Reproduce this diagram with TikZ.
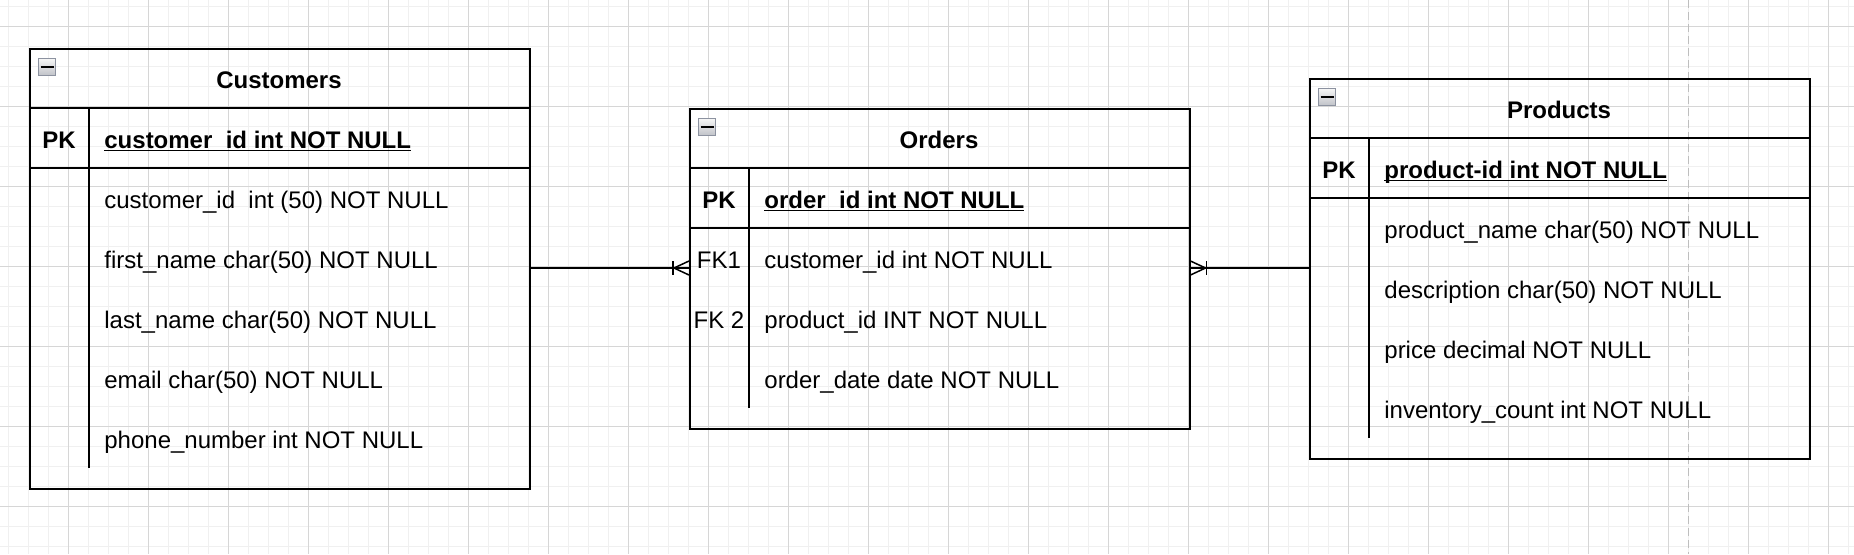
\documentclass[tikz,border=0pt]{standalone}
\usepackage{fontspec}
\setmainfont{Liberation Sans}
\usepackage{xcolor}
\usetikzlibrary{positioning}

\definecolor{minorgrid}{RGB}{240,240,240}
\definecolor{majorgrid}{RGB}{214,214,214}
\definecolor{pagebreak}{RGB}{190,190,190}
\definecolor{iconedge}{RGB}{140,146,160}
\definecolor{icontop}{RGB}{246,246,246}
\definecolor{iconbottom}{RGB}{192,194,200}

\newcommand{\keyfield}[1]{\sbox0{#1}\rlap{\rule[-1.7pt]{\wd0}{0.9pt}}\usebox0}

\begin{document}
\begin{tikzpicture}[x=0.5pt,y=-0.5pt,
		grid minor/.style={draw=minorgrid,line width=0.5pt},
		grid major/.style={draw=majorgrid,line width=0.5pt},
		page break/.style={draw=pagebreak,line width=0.6pt,dash pattern=on 4pt off 2pt},
		table box/.style={draw=black,line width=0.75pt,anchor=north west,minimum width=250pt,inner sep=0pt},
		table line/.style={draw=black,line width=0.75pt},
		icon box/.style={draw=iconedge,line width=0.6pt,top color=icontop,bottom color=iconbottom,anchor=north west,minimum size=8.5pt,inner sep=0pt},
		icon minus/.style={draw=black,line width=1pt},
		title text/.style={font=\fontsize{12}{14}\selectfont\bfseries,anchor=base,inner sep=0pt},
		key text/.style={font=\fontsize{12}{14}\selectfont,anchor=base,inner sep=0pt},
		pk text/.style={font=\fontsize{12}{14}\selectfont\bfseries,anchor=base,inner sep=0pt},
		field text/.style={font=\fontsize{12}{14}\selectfont,anchor=base west,inner sep=0pt},
		relation/.style={draw=black,line width=0.75pt}]
		\useasboundingbox (0,0) rectangle (1854,554);
		\fill[white] (0,0) rectangle (1854,554);
		% background grid
		\foreach \gx in {8.3,28.3,...,1854} \draw[grid minor] (\gx,0) -- (\gx,554);
		\foreach \gy in {6.7,26.7,...,554} \draw[grid minor] (0,\gy) -- (1854,\gy);
		\foreach \gx in {68.3,148.3,...,1854} \draw[grid major] (\gx,0) -- (\gx,554);
		\foreach \gy in {26.7,106.7,...,554} \draw[grid major] (0,\gy) -- (1854,\gy);
		\draw[page break] (1688.3,0) -- (1688.3,554);
		% Customers
		\node[table box,minimum height=220pt] (customers) at (29,48) {};
		\node[icon box] (customers-icon) at (38,58) {};
		\draw[icon minus] ([xshift=1.3pt]customers-icon.west) -- ([xshift=-1.3pt]customers-icon.east);
		\node[title text] (customers-title) at (279,88) {Customers};
		\draw[table line] (29,108) -- (529,108);
		\draw[table line] (29,168) -- (529,168);
		\draw[table line] (89,108) -- (89,468);
		\node[pk text] (customers-pk) at (59,148) {PK};
		\node[field text,font=\fontsize{12}{14}\selectfont\bfseries] (customers-key) at (104,148) {\keyfield{customer\_id int NOT NULL}};
		\node[field text] (customers-row1) at (104,208) {customer\_id\ \ int (50) NOT NULL};
		\node[field text] (customers-row2) at (104,268) {first\_name char(50) NOT NULL};
		\node[field text] (customers-row3) at (104,328) {last\_name char(50) NOT NULL};
		\node[field text] (customers-row4) at (104,388) {email char(50) NOT NULL};
		\node[field text] (customers-row5) at (104,448) {phone\_number int NOT NULL};
		% Orders
		\node[table box,minimum height=160pt] (orders) at (689,108) {};
		\node[icon box] (orders-icon) at (698,118) {};
		\draw[icon minus] ([xshift=1.3pt]orders-icon.west) -- ([xshift=-1.3pt]orders-icon.east);
		\node[title text] (orders-title) at (939,148) {Orders};
		\draw[table line] (689,168) -- (1189,168);
		\draw[table line] (689,228) -- (1189,228);
		\draw[table line] (749,168) -- (749,408);
		\node[pk text] (orders-pk) at (719,208) {PK};
		\node[field text,font=\fontsize{12}{14}\selectfont\bfseries] (orders-key) at (764,208) {\keyfield{order\_id int NOT NULL}};
		\node[key text] (orders-fk1) at (719,268) {FK1};
		\node[key text] (orders-fk2) at (719,328) {FK 2};
		\node[field text] (orders-row1) at (764,268) {customer\_id int NOT NULL};
		\node[field text] (orders-row2) at (764,328) {product\_id INT NOT NULL};
		\node[field text] (orders-row3) at (764,388) {order\_date date NOT NULL};
		% Products
		\node[table box,minimum height=190pt] (products) at (1309,78) {};
		\node[icon box] (products-icon) at (1318,88) {};
		\draw[icon minus] ([xshift=1.3pt]products-icon.west) -- ([xshift=-1.3pt]products-icon.east);
		\node[title text] (products-title) at (1559,118) {Products};
		\draw[table line] (1309,138) -- (1809,138);
		\draw[table line] (1309,198) -- (1809,198);
		\draw[table line] (1369,138) -- (1369,438);
		\node[pk text] (products-pk) at (1339,178) {PK};
		\node[field text,font=\fontsize{12}{14}\selectfont\bfseries] (products-key) at (1384,178) {\keyfield{product-id int NOT NULL}};
		\node[field text] (products-row1) at (1384,238) {product\_name char(50) NOT NULL};
		\node[field text] (products-row2) at (1384,298) {description char(50) NOT NULL};
		\node[field text] (products-row3) at (1384,358) {price decimal NOT NULL};
		\node[field text] (products-row4) at (1384,418) {inventory\_count int NOT NULL};
		% relations
		\coordinate (link) at (0,268);
		\draw[relation] (customers.east |- link) -- (orders.west |- link);
		\draw[relation] (orders.west |- link) ++(0,-7) -- ++(-15,7) -- ++(15,7);
		\draw[relation] (orders.west |- link) ++(-16,-7) -- ++(0,14);
		\draw[relation] (products.west |- link) -- (orders.east |- link);
		\draw[relation] (orders.east |- link) ++(0,-7) -- ++(15,7) -- ++(-15,7);
		\draw[relation] (orders.east |- link) ++(16,-7) -- ++(0,14);
	\end{tikzpicture}
\end{document}
